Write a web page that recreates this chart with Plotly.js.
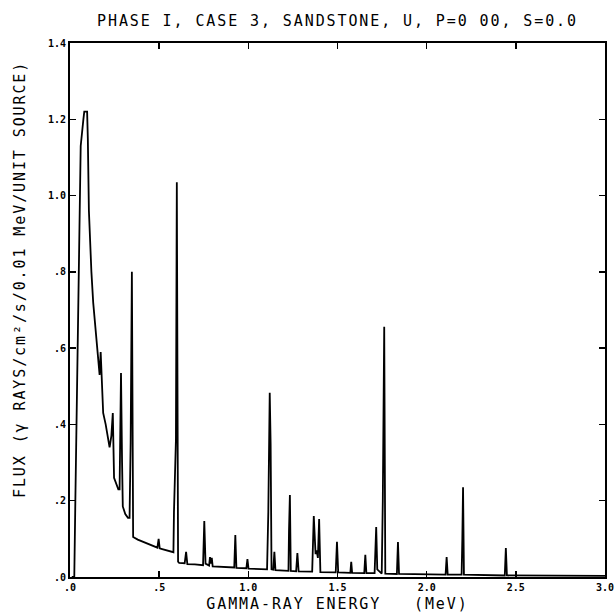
<!DOCTYPE html>
<html>
<head>
<meta charset="utf-8">
<script src="https://cdn.plot.ly/plotly-3.0.1.min.js"></script>
<style>
  html, body { margin: 0; padding: 0; background: #fff; }
  .gtitle, .xtitle, .annotation-text { letter-spacing: 1.9px; }
</style>
</head>
<body>
<div id="chart" style="width:616px;height:615px;"></div>
<script>
// Gamma-ray energy (MeV)
const energy = [
  0.010, 0.024, 0.030, 0.050, 0.060, 0.075, 0.080, 0.096, 0.100, 0.106,
  0.112, 0.120, 0.130, 0.140, 0.150, 0.160, 0.166, 0.172, 0.176, 0.180,
  0.186, 0.200, 0.212, 0.222, 0.232, 0.240, 0.247, 0.258, 0.271, 0.278,
  0.286, 0.292, 0.296, 0.310, 0.325, 0.334, 0.340, 0.347, 0.351, 0.354,
  0.380, 0.420, 0.460, 0.490, 0.497, 0.503, 0.512, 0.550, 0.580, 0.583,
  0.594, 0.599, 0.603, 0.606, 0.612, 0.643, 0.651, 0.658, 0.700, 0.746,
  0.753, 0.760, 0.780, 0.785, 0.790, 0.795, 0.800, 0.850, 0.921, 0.927,
  0.933, 0.989, 0.995, 1.001, 1.105, 1.112, 1.120, 1.125, 1.130, 1.140,
  1.146, 1.152, 1.225, 1.228, 1.233, 1.238, 1.268, 1.275, 1.282, 1.358,
  1.367, 1.377, 1.383, 1.390, 1.397, 1.404, 1.490, 1.497, 1.504, 1.572,
  1.577, 1.582, 1.650, 1.656, 1.662, 1.708, 1.717, 1.723, 1.748, 1.754,
  1.762, 1.768, 1.833, 1.839, 1.845, 2.106, 2.112, 2.118, 2.196, 2.200,
  2.204, 2.209, 2.438, 2.444, 2.450, 3.000
];
// Flux (gamma rays/cm^2/s/0.01 MeV/unit source)
const flux = [
  0.000, 0.000, 0.200, 0.870, 1.130, 1.200, 1.220, 1.220, 1.150, 0.960,
  0.880, 0.800, 0.720, 0.670, 0.630, 0.580, 0.530, 0.590, 0.530, 0.470,
  0.430, 0.400, 0.370, 0.340, 0.370, 0.430, 0.260, 0.245, 0.230, 0.230,
  0.535, 0.300, 0.185, 0.165, 0.155, 0.155, 0.350, 0.800, 0.400, 0.105,
  0.098, 0.090, 0.083, 0.077, 0.100, 0.075, 0.074, 0.068, 0.065, 0.170,
  0.360, 1.035, 0.380, 0.040, 0.037, 0.036, 0.066, 0.034, 0.033, 0.031,
  0.147, 0.035, 0.030, 0.052, 0.035, 0.050, 0.028, 0.026, 0.025, 0.110,
  0.024, 0.023, 0.047, 0.022, 0.020, 0.170, 0.483, 0.350, 0.020, 0.019,
  0.066, 0.018, 0.016, 0.120, 0.215, 0.016, 0.015, 0.063, 0.015, 0.014,
  0.160, 0.060, 0.070, 0.050, 0.152, 0.013, 0.012, 0.092, 0.012, 0.011,
  0.040, 0.011, 0.010, 0.058, 0.010, 0.010, 0.131, 0.020, 0.009, 0.200,
  0.656, 0.009, 0.008, 0.092, 0.008, 0.006, 0.052, 0.006, 0.006, 0.100,
  0.235, 0.006, 0.004, 0.076, 0.004, 0.003
];
const xTickVals = [0, 0.5, 1.0, 1.5, 2.0, 2.5, 3.0];
const xTickText = ['.0', '.5', '1.0', '1.5', '2.0', '2.5', '3.0'];
const yTickVals = [0, 0.2, 0.4, 0.6, 0.8, 1.0, 1.2, 1.4];
const yTickText = ['.0', '.2', '.4', '.6', '.8', '1.0', '1.2', '1.4'];

const FONT = 'DejaVu Sans Mono, monospace';

const trace = {
  x: energy,
  y: flux,
  type: 'scatter',
  mode: 'lines',
  line: { color: '#000', width: 1.8 },
  hoverinfo: 'skip'
};

const axisCommon = {
  showline: true,
  linecolor: '#000',
  linewidth: 2,
  mirror: 'ticks',
  ticks: 'inside',
  ticklen: 6,
  tickwidth: 1.5,
  tickcolor: '#000',
  showgrid: false,
  zeroline: false,
  tickfont: { family: FONT, size: 10, color: '#000', weight: 'bold' }
};

const layout = {
  width: 616,
  height: 615,
  margin: { l: 70, r: 11, t: 43, b: 38, pad: 0 },
  paper_bgcolor: '#fff',
  plot_bgcolor: '#fff',
  showlegend: false,
  title: {
    text: 'PHASE I, CASE 3, SANDSTONE, U, P=0 00, S=0.0',
    font: { family: FONT, size: 15, color: '#000' },
    x: 0.5, xref: 'paper', xanchor: 'center',
    y: 1 - 21 / 615, yref: 'container', yanchor: 'middle'
  },
  xaxis: Object.assign({}, axisCommon, {
    range: [0, 3.0],
    tickmode: 'array',
    tickvals: xTickVals,
    ticktext: xTickText,
    title: {
      text: 'GAMMA-RAY ENERGY\u00a0\u00a0\u00a0(MeV)',
      font: { family: FONT, size: 15, color: '#000' },
      standoff: 6
    }
  }),
  yaxis: Object.assign({}, axisCommon, {
    range: [0, 1.4],
    tickmode: 'array',
    tickvals: yTickVals,
    ticktext: yTickText
  }),
  annotations: [{
    text: 'FLUX (\u03b3 RAYS/cm\u00b2/s/0.01 MeV/UNIT SOURCE)',
    font: { family: FONT, size: 15, color: '#000' },
    textangle: -90,
    xref: 'paper', yref: 'paper',
    x: (20 - 70) / 535, y: (577 - 280) / 534,
    xanchor: 'center', yanchor: 'middle',
    showarrow: false
  }]
};

Plotly.newPlot('chart', [trace], layout, { displayModeBar: false, staticPlot: true });
</script>
</body>
</html>
